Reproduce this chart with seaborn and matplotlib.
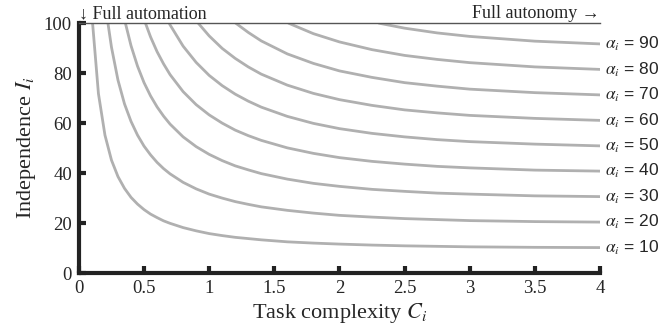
import numpy as np
import pandas as pd
import seaborn as sns
import matplotlib
matplotlib.use("Agg")
import matplotlib.pyplot as plt

############################################################### Data

alphas = [10, 20, 30, 40, 50, 60, 70, 80, 90]

# complexity where each curve leaves the top edge (I = 100)
top_c = [0.105, 0.223, 0.357, 0.511, 0.693, 0.916, 1.204, 1.609, 2.303]

c_grid = [0.15, 0.2, 0.25, 0.3, 0.35, 0.4, 0.45, 0.5, 0.55, 0.6,
          0.65, 0.7, 0.8, 0.9, 1.0, 1.1, 1.2, 1.3, 1.4, 1.6,
          1.8, 2.0, 2.25, 2.5, 2.75, 3.0, 3.5, 4.0]

n = np.nan
i_10 = [71.8, 55.2, 45.2, 38.6, 33.9, 30.3, 27.6, 25.4, 23.6, 22.2,
        20.9, 19.9, 18.2, 16.9, 15.8, 15.0, 14.3, 13.8, 13.3, 12.5,
        12.0, 11.6, 11.2, 10.9, 10.7, 10.5, 10.3, 10.2]
i_20 = [n, n, 90.4, 77.2, 67.7, 60.7, 55.2, 50.8, 47.3, 44.3,
        41.8, 39.7, 36.3, 33.7, 31.6, 30.0, 28.6, 27.5, 26.5, 25.1,
        24.0, 23.1, 22.4, 21.8, 21.4, 21.0, 20.6, 20.4]
i_30 = [n, n, n, n, n, 91.0, 82.8, 76.2, 70.9, 66.5,
        62.8, 59.6, 54.5, 50.6, 47.5, 45.0, 42.9, 41.3, 39.8, 37.6,
        35.9, 34.7, 33.5, 32.7, 32.0, 31.6, 30.9, 30.6]
i_40 = [n, n, n, n, n, n, n, n, 94.5, 88.6,
        83.7, 79.4, 72.6, 67.4, 63.3, 60.0, 57.2, 55.0, 53.1, 50.1,
        47.9, 46.2, 44.7, 43.6, 42.7, 42.1, 41.2, 40.8]
i_50 = [n, n, n, n, n, n, n, n, n, n,
        n, 99.3, 90.8, 84.3, 79.1, 75.0, 71.6, 68.8, 66.4, 62.7,
        59.9, 57.8, 55.9, 54.5, 53.4, 52.6, 51.6, 50.9]
i_60 = [n, n, n, n, n, n, n, n, n, n,
        n, n, n, n, 94.9, 89.9, 85.9, 82.5, 79.6, 75.2,
        71.9, 69.4, 67.1, 65.3, 64.1, 63.1, 61.9, 61.1]
i_70 = [n, n, n, n, n, n, n, n, n, n,
        n, n, n, n, n, n, n, 96.3, 92.9, 87.7,
        83.9, 80.9, 78.3, 76.2, 74.8, 73.6, 72.2, 71.3]
i_80 = [n, n, n, n, n, n, n, n, n, n,
        n, n, n, n, n, n, n, n, n, n,
        95.8, 92.5, 89.4, 87.1, 85.5, 84.2, 82.5, 81.5]
i_90 = [n, n, n, n, n, n, n, n, n, n,
        n, n, n, n, n, n, n, n, n, n,
        n, n, n, 98.0, 96.1, 94.7, 92.8, 91.7]

curves = [i_10, i_20, i_30, i_40, i_50, i_60, i_70, i_80, i_90]

x_ticks = [0, 0.5, 1, 1.5, 2, 2.5, 3, 3.5, 4]
x_tick_labels = ["0", "0.5", "1", "1.5", "2", "2.5", "3", "3.5", "4"]
y_ticks = [0, 20, 40, 60, 80, 100]

############################################################### Plot

sns.set_style("ticks")
plt.rcParams["font.family"] = ["Liberation Serif", "DejaVu Serif"]
plt.rcParams["mathtext.fontset"] = "stix"

fig = plt.figure(figsize=(6.63, 3.31), dpi=100)
ax = fig.add_axes([0.119, 0.175, 0.786, 0.755])

rows = []
for a, top, vals in zip(alphas, top_c, curves):
    rows.append({"C": top, "I": 100.0, "alpha": a})
    for c, v in zip(c_grid, vals):
        if not np.isnan(v):
            rows.append({"C": c, "I": v, "alpha": a})
df = pd.DataFrame(rows)

sns.lineplot(data=df, x="C", y="I", hue="alpha", palette=["#b0b0b0"] * len(alphas),
             linewidth=2.0, legend=False, ax=ax, estimator=None, sort=True)

for a, vals in zip(alphas, curves):
    ax.text(4.04, vals[-1], r"$\alpha_i$ = %d" % a, ha="left", va="center",
            fontsize=12.5, family=["Liberation Sans", "DejaVu Sans"], clip_on=False)

ax.set_xlim(0, 4)
ax.set_ylim(0, 100)
ax.set_xticks(x_ticks)
ax.set_xticklabels(x_tick_labels)
ax.set_yticks(y_ticks)

for s in ["left", "bottom"]:
    ax.spines[s].set_linewidth(3)
    ax.spines[s].set_color("#222222")
ax.spines["right"].set_visible(False)
ax.spines["top"].set_visible(True)
ax.spines["top"].set_linewidth(1.0)
ax.spines["top"].set_color("#555555")

ax.tick_params(direction="in", length=5, width=3, color="#222222",
               labelsize=13.5, pad=5, top=False, right=False)

ax.set_xlabel("Task complexity $C_i$", fontsize=16, labelpad=3)
ax.set_ylabel("Independence $I_i$", fontsize=16, labelpad=4)

ax.text(0.0, 100.5, "\u2193 Full automation", ha="left", va="bottom", fontsize=13)
ax.text(4.0, 100.5, "Full autonomy \u2192", ha="right", va="bottom", fontsize=13)

fig.savefig("out.png", dpi=100)
